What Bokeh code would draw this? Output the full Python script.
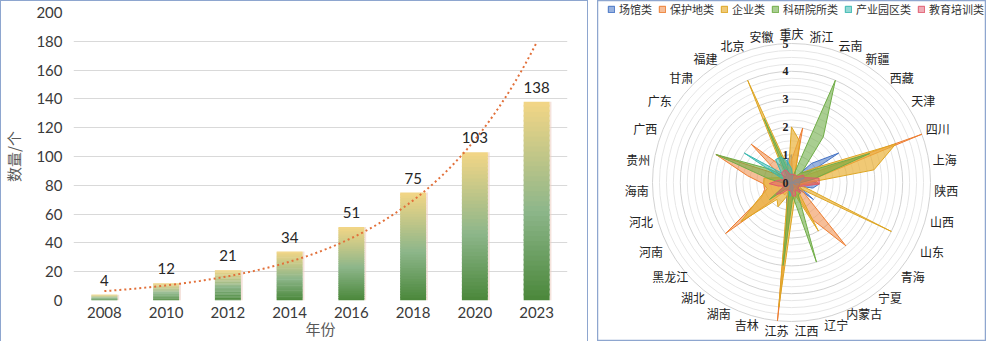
import numpy as np
from bokeh.plotting import figure
from bokeh.models import Range1d, FixedTicker, Legend, LegendItem
from bokeh.layouts import row, column
from bokeh.embed import file_html
from bokeh.resources import INLINE
from bokeh.core.properties import value

# ---------------- data ----------------
years = ["2008", "2010", "2012", "2014", "2016", "2018", "2020", "2023"]
counts = [4, 12, 21, 34, 51, 75, 103, 138]

provinces = ["重庆", "浙江", "云南", "新疆", "西藏", "天津", "四川", "上海", "陕西", "山西",
             "山东", "青海", "宁夏", "内蒙古", "辽宁", "江西", "江苏", "吉林", "湖南", "湖北",
             "黑龙江", "河南", "河北", "海南", "贵州", "广西", "广东", "甘肃", "福建", "北京", "安徽"]
series_names = ["场馆类", "保护地类", "企业类", "科研院所类", "产业园区类", "教育培训类"]
venue = [1.0, 0.2, 0, 0.2, 1.0, 2.0, 0.3, 0.6, 1.0, 0.8, 0.3, 1.0, 0.2, 0.2, 0.2, 0.3, 1.7, 0.6, 0.2, 0,
         0, 0, 0, 0, 0, 0, 0, 0, 0.2, 0.3, 0.8]
protected = [0.8, 2.0, 0.3, 0.2, 0.2, 0.3, 5.0, 0.8, 1.0, 0.3, 0.3, 0.5, 3.0, 1.5, 0.3, 0.3, 5.0, 0.3, 0.5, 0.5,
             3.0, 1.2, 1.0, 1.0, 1.6, 2.9, 0.5, 2.0, 0.8, 0.6, 0.3]
enterprise = [2.0, 1.5, 0.3, 0.3, 0.5, 1.0, 4.0, 3.0, 0.5, 0.3, 4.0, 0.3, 0.3, 2.0, 0.5, 0.8, 4.5, 0.5, 1.0, 0.8,
              2.3, 1.3, 0.9, 1.0, 1.0, 0.5, 0.3, 0.3, 0.5, 4.0, 0.5]
research = [0.3, 0.2, 4.0, 2.0, 0.5, 0.8, 3.0, 0.8, 0.3, 0.3, 0.3, 0.3, 0.5, 0.5, 3.0, 0.5, 3.0, 0.3, 0.3, 0.3,
            1.0, 0.3, 0.3, 0.3, 0.8, 2.9, 0.9, 0.3, 0.3, 2.5, 0.3]
industrial = [0.5, 0.2, 0, 0, 0, 0.2, 0.5, 0.3, 0.3, 0, 0.2, 0, 0, 0, 0.2, 0.3, 0.5, 0.3, 0, 0,
              0.3, 0, 0, 0, 0.3, 0.3, 2.0, 0.5, 1.0, 1.0, 0.8]
education = [0.3, 0.3, 0.3, 0.3, 0.3, 0.5, 0.5, 1.0, 1.0, 0.5, 0.3, 0.3, 0.5, 0.3, 0.5, 0.5, 0.3, 0.3, 0.3, 0.5,
             0.7, 0.3, 0.5, 0.8, 0.5, 0.3, 0.3, 0.5, 0.5, 0.5, 0.3]
radial_ticks = [0, 1, 2, 3, 4, 5]

# ---------------- styles ----------------
H = 341
W1 = 588
GAP = 9
W2 = 986 - W1 - GAP
BORDER = "#8EA6CF"
NUM_FONT = "Lato"
CJK = "Noto Sans CJK SC"

# ---------------- left: bar chart ----------------
idx = np.arange(len(years))
p1 = figure(width=W1, height=H, output_backend="svg", toolbar_location=None, title=None,
            x_range=Range1d(-0.5, 7.5), y_range=Range1d(0, 200),
            min_border_left=71, min_border_right=21, min_border_top=12, min_border_bottom=30)
p1.outline_line_color = None
p1.border_fill_color = None
p1.background_fill_color = "white"
p1.styles = {"box-shadow": "inset 1px 1px 0 %s, inset -1px 0 0 %s" % (BORDER, BORDER)}
p1.xgrid.visible = False
p1.ygrid.ticker = FixedTicker(ticks=list(range(0, 201, 20)))
p1.ygrid.grid_line_color = "#D9D9D9"
p1.ygrid.grid_line_width = 1

p1.yaxis.ticker = FixedTicker(ticks=list(range(0, 201, 20)))
p1.xaxis.ticker = FixedTicker(ticks=list(idx))
p1.xaxis.major_label_overrides = {int(i): y for i, y in zip(idx, years)}
for ax in (p1.xaxis[0], p1.yaxis[0]):
    ax.axis_line_color = None
    ax.major_tick_line_color = None
    ax.minor_tick_line_color = None
    ax.major_tick_in = 0
    ax.major_tick_out = 0
    ax.major_label_text_font = NUM_FONT
    ax.major_label_text_font_size = "15px"
    ax.major_label_text_color = "#3A3A3A"
    ax.axis_label_text_font = CJK
    ax.axis_label_text_font_size = "15px"
    ax.axis_label_text_font_style = "normal"
    ax.axis_label_text_color = "#595959"
p1.yaxis.axis_label = "数量/个"
p1.xaxis.axis_label = "年份"
p1.yaxis.major_label_standoff = 11
p1.yaxis.axis_label_standoff = 9
p1.xaxis.major_label_standoff = 6
p1.xaxis.axis_label_standoff = -3

# gradient bars (green bottom -> yellow top), built as stacked slices
stops = [(0.0, (74, 135, 58)), (0.45, (141, 182, 138)), (1.0, (243, 214, 134))]


def grad(t):
    for (t0, c0), (t1, c1) in zip(stops[:-1], stops[1:]):
        if t <= t1:
            f = (t - t0) / (t1 - t0)
            return "#%02x%02x%02x" % tuple(int(round(a + (b - a) * f)) for a, b in zip(c0, c1))
    return "#%02x%02x%02x" % stops[-1][1]


N = 40
bw = 0.21
L, R, B, T, C = [], [], [], [], []
for i, v in zip(idx, counts):
    for k in range(N):
        L.append(i - bw)
        R.append(i + bw)
        B.append(v * k / N)
        T.append(min(v, v * (k + 1.4) / N))
        C.append(grad((k + 0.5) / N))
# soft right shadow
p1.quad(left=idx + bw, right=idx + bw + 0.03, bottom=0, top=counts,
        fill_color="#EFCFC3", fill_alpha=0.6, line_color=None)
p1.quad(left=L, right=R, bottom=B, top=T, fill_color=C, line_color=None)

# exponential trendline
coef = np.polyfit(idx, np.log(counts), 1)
xs = np.linspace(0, 7, 200)
p1.line(xs, np.exp(coef[1] + coef[0] * xs), line_color="#E2703A", line_width=2,
        line_dash="2 3")

p1.text(x=idx, y=counts, text=[str(c) for c in counts], text_align="center",
        text_baseline="bottom", y_offset=-9, text_font=value(NUM_FONT),
        text_font_size="15px", text_color="#262626")

# ---------------- right: radar chart ----------------
U = 27.8
cxp, cyp = 194, 182
p2 = figure(frame_width=W2, frame_height=H, output_backend="svg", toolbar_location=None,
            title=None,
            x_range=Range1d(-cxp / U, (W2 - cxp) / U),
            y_range=Range1d(-(H - cyp) / U, cyp / U),
            x_axis_location=None, y_axis_location=None, min_border=0)
p2.grid.visible = False
p2.outline_line_color = BORDER
p2.outline_line_width = 1.5

radii = np.arange(0.25, 5.01, 0.25)
ring_colors = ["#D2D2D2" if abs(r - round(r)) < 1e-6 else "#E6E6E6" for r in radii]
p2.circle(x=np.zeros_like(radii), y=np.zeros_like(radii), radius=radii,
          fill_color=None, line_color=ring_colors, line_width=1)

n = len(provinces)
theta = np.arange(n) * 2 * np.pi / n
series = [venue, protected, enterprise, research, industrial, education]
colors = [("#4472C4", "#4472C4", 0.55), ("#ED7D31", "#ED7D31", 0.5),
          ("#E9B23A", "#DDA523", 0.7), ("#70AD47", "#70AD47", 0.6),
          ("#39B8B0", "#39B8B0", 0.55), ("#E05A6E", "#E05A6E", 0.5)]
items = []
for name, vals, (fc, lc, fa) in zip(series_names, series, colors):
    v = np.array(vals, dtype=float)
    px = np.append(v * np.sin(theta), v[0] * np.sin(theta[0]))
    py = np.append(v * np.cos(theta), v[0] * np.cos(theta[0]))
    r = p2.patch(px, py, fill_color=fc, fill_alpha=fa, line_color=lc, line_width=1)
    items.append(LegendItem(label=name, renderers=[r]))

# radial tick labels
p2.text(x=[0] * len(radial_ticks), y=radial_ticks, text=[str(t) for t in radial_ticks],
        text_align="right", text_baseline="middle", x_offset=-3,
        text_font=value("Liberation Serif"), text_font_style="bold",
        text_font_size="12px", text_color="#222222")

# category labels outside ring 5
lx, ly = [], []
for name, th in zip(provinces, theta):
    s, c = np.sin(th), np.cos(th)
    hw = 6.0 * len(name) + 1
    hh = 7.0
    d = min(hw / abs(s) if abs(s) > 1e-6 else 1e9, hh / abs(c) if abs(c) > 1e-6 else 1e9)
    rr = (5 * U + 3 + d) / U
    lx.append(rr * s)
    ly.append(rr * c)
p2.text(x=lx, y=ly, text=provinces, text_align="center", text_baseline="middle",
        text_font=value(CJK), text_font_size="12px", text_color="#222222")

legend = Legend(items=items, orientation="horizontal", location=(10, H - 17),
                glyph_width=8, glyph_height=8, label_height=11, label_width=10,
                label_standoff=4, spacing=6, padding=2, margin=0,
                label_text_font=CJK, label_text_font_size="11px",
                label_text_color="#333333", border_line_color=None,
                background_fill_alpha=0)
p2.add_layout(legend)

layout = row(p1, column(p2), spacing=GAP)
open("out.html", "w").write(file_html(layout, INLINE))
